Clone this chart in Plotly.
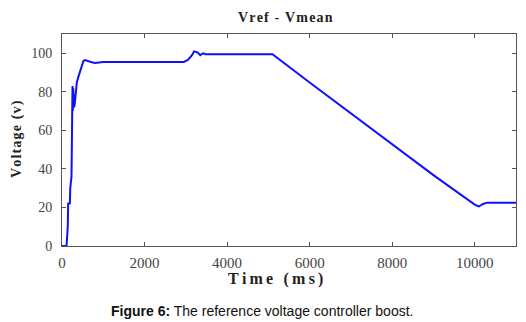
import plotly.graph_objects as go

time_ms = [0, 110, 140, 150, 190, 200, 230, 240, 255, 262, 270, 280, 295, 310, 330,
           360, 400, 440, 480, 520, 560, 620, 700, 800, 900, 1000, 1500, 2000, 2500,
           2950, 3050, 3150, 3200, 3280, 3350, 3420, 3480, 3600, 4000, 4500, 5100,
           6000, 7000, 8000, 9000, 10000, 10100, 10200, 10300, 10600, 11000]
voltage = [0, 0, 10, 22, 22, 30, 36, 60, 83, 70, 82, 75, 72, 74, 80,
           85, 88, 91, 94, 96, 96.5, 96, 95.5, 95, 95.2, 95.5, 95.5, 95.5, 95.5,
           95.5, 96.5, 99, 101, 100.5, 99, 100, 99.5, 99.5, 99.5, 99.5, 99.5,
           84.8, 68.8, 52.8, 36.8, 21.5, 20.5, 21.8, 22.5, 22.5, 22.5]

x_ticks = [0, 2000, 4000, 6000, 8000, 10000]
x_tick_labels = ["0", "2000", "4000", "6000", "8000", "10000"]
y_ticks = [0, 20, 40, 60, 80, 100]

chart_title = "Vref - Vmean"
x_title = "Time (ms)"
y_title = "Voltage (v)"
caption_bold = "Figure 6:"
caption_rest = " The reference voltage controller boost."

serif = "Liberation Serif, Times New Roman, serif"
sans = "Liberation Sans, Arial, sans-serif"


def spaced(s, sep="\u200a"):
    return sep.join(s)


fig = go.Figure()
fig.add_trace(go.Scatter(x=time_ms, y=voltage, mode="lines",
                         line=dict(color="#1010ff", width=2), showlegend=False))

axis_common = dict(showgrid=False, zeroline=False, showline=True, linecolor="#555555",
                   linewidth=1, mirror="ticks", ticks="inside", ticklen=4,
                   tickcolor="#555555", automargin=False)

# page body has an 8px margin, so the figure is sized to fit the 526x322 window
fig.update_layout(
    width=518, height=314,
    margin=dict(l=54, r=10, t=26, b=76),
    paper_bgcolor="white", plot_bgcolor="white",
    xaxis=dict(range=[0, 11000], tickvals=x_ticks, ticktext=x_tick_labels,
               ticklabelstandoff=3, tickfont=dict(family=serif, size=15, color="#444444"),
               **axis_common),
    yaxis=dict(range=[0, 110], tickvals=y_ticks, ticklabelstandoff=6,
               tickfont=dict(family=serif, size=14, color="#444444"), **axis_common),
)

fig.add_annotation(text="<b>" + spaced(chart_title) + "</b>", xref="paper", yref="paper",
                   x=0.493, y=1.078, xanchor="center", yanchor="middle", showarrow=False,
                   font=dict(family=serif, size=14, color="#222222"))
fig.add_annotation(text="<b>" + spaced(x_title, "\u2009") + "</b>", xref="paper", yref="paper",
                   x=0.471, y=-0.156, xanchor="center", yanchor="middle", showarrow=False,
                   font=dict(family=serif, size=16, color="#222222"))
fig.add_annotation(text="<b>" + spaced(y_title) + "</b>", xref="paper", yref="paper",
                   x=-0.099, y=0.505, xanchor="center", yanchor="middle", showarrow=False,
                   textangle=-90, font=dict(family=serif, size=14, color="#222222"))
fig.add_annotation(text="<b>" + caption_bold + "</b>" + caption_rest,
                   xref="paper", yref="paper", x=0.4416, y=-0.307, xanchor="center",
                   yanchor="middle", showarrow=False,
                   font=dict(family=sans, size=14, color="#111111"))

fig.write_html("out.html")
